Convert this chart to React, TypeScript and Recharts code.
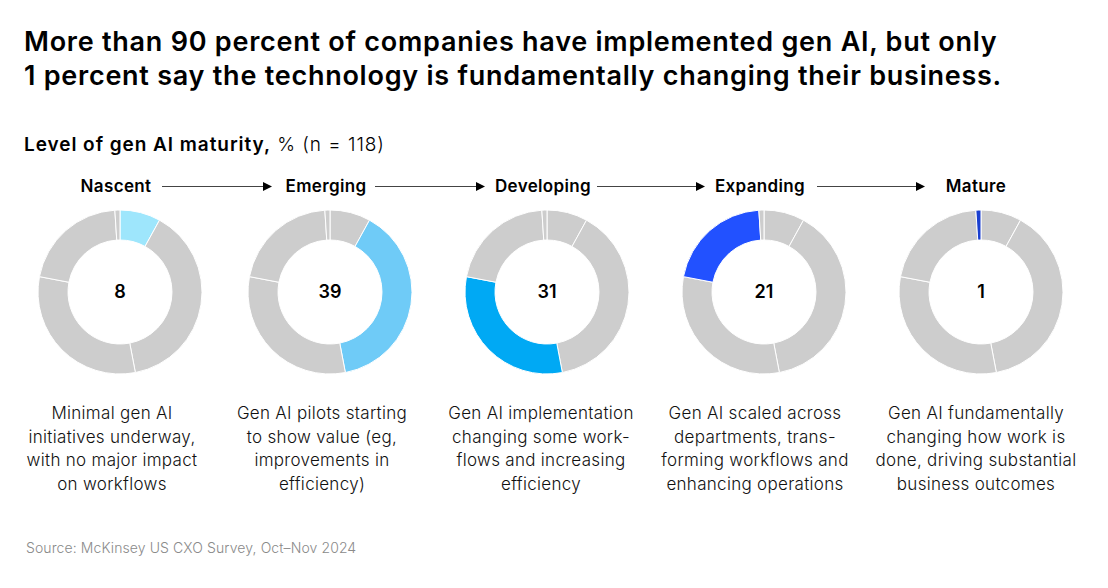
import React from 'react';
import { PieChart, Pie, Cell, Label } from 'recharts';

const STAGES = ['Nascent', 'Emerging', 'Developing', 'Expanding', 'Mature'];
const SHARES = [8, 39, 31, 21, 1];
const HIGHLIGHTS = ['#9ee6fc', '#6fcbf7', '#00a9f4', '#2251ff', '#1a3fd0'];
const DESCRIPTIONS = [
  ['Minimal gen AI', 'initiatives underway,', 'with no major impact', 'on workflows'],
  ['Gen AI pilots starting', 'to show value (eg,', 'improvements in', 'efficiency)'],
  ['Gen AI implementation', 'changing some work-', 'flows and increasing', 'efficiency'],
  ['Gen AI scaled across', 'departments, trans-', 'forming workflows and', 'enhancing operations'],
  ['Gen AI fundamentally', 'changing how work is', 'done, driving substantial', 'business outcomes'],
];

const GRAY = '#cdcdcd';
const FONT = 'Inter, "Noto Sans", Arial, sans-serif';
// layout: donut centres, stage-label centres, description centres
const CENTERS = [120, 330, 547, 764, 981];
const LABEL_X = [116, 326, 543, 760, 976];
const DESC_X = [112, 322, 541, 755, 976];
const CY = 292;
// arrows between stage labels: [from, to]
const ARROWS = [[162, 272], [375, 485], [597, 705], [817, 925]];

const sliceData = SHARES.map((v, i) => ({ name: STAGES[i], value: v }));

const Donut = ({ idx }: { idx: number }) => (
  <PieChart width={180} height={180} margin={{ top: 0, right: 0, bottom: 0, left: 0 }}>
    <Pie
      data={sliceData}
      dataKey="value"
      nameKey="name"
      cx="50%"
      cy="50%"
      innerRadius={52}
      outerRadius={82}
      startAngle={90}
      endAngle={-270}
      stroke="#fff"
      strokeWidth={1}
      isAnimationActive={false}
    >
      {sliceData.map((d, j) => (
        <Cell key={d.name} fill={j === idx ? HIGHLIGHTS[idx] : GRAY} />
      ))}
      <Label value={String(SHARES[idx])} position="center" fill="#000" fontSize={18} fontWeight={600} fontFamily={FONT} />
    </Pie>
  </PieChart>
);

export default function App() {
  return (
    <div style={{ position: 'absolute', left: 0, top: 0, width: 1108, height: 588, background: '#fff', fontFamily: FONT, color: '#000' }}>
      <div style={{ position: 'absolute', left: 24, top: 25, fontSize: 27, fontWeight: 600, lineHeight: '34px', letterSpacing: 0.75, whiteSpace: 'nowrap' }}>
        More than 90 percent of companies have implemented gen AI, but only
        <br />
        1 percent say the technology is fundamentally changing their business.
      </div>
      <div style={{ position: 'absolute', left: 24, top: 133, fontSize: 19, lineHeight: '24px', letterSpacing: 0.95, whiteSpace: 'nowrap' }}>
        <span style={{ fontWeight: 600 }}>Level of gen AI maturity,</span>
        <span style={{ fontWeight: 300 }}> % (n = 118)</span>
      </div>

      {STAGES.map((s, i) => (
        <div key={s} style={{ position: 'absolute', left: LABEL_X[i] - 80, width: 160, top: 175, textAlign: 'center', fontSize: 17, fontWeight: 600, lineHeight: '22px', letterSpacing: 0.35 }}>
          {s}
        </div>
      ))}
      <svg style={{ position: 'absolute', left: 0, top: 0 }} width={1108} height={220}>
        {ARROWS.map(([a, b], i) => (
          <g key={i}>
            <line x1={a} x2={b - 8} y1={186.5} y2={186.5} stroke="#444" strokeWidth={1} />
            <path d={`M${b - 9},182 L${b},186.5 L${b - 9},191 Z`} fill="#000" />
          </g>
        ))}
      </svg>

      {STAGES.map((s, i) => (
        <div key={s} style={{ position: 'absolute', left: CENTERS[i] - 90, top: CY - 90 }}>
          <Donut idx={i} />
        </div>
      ))}

      {DESCRIPTIONS.map((lines, i) => (
        <div key={i} style={{ position: 'absolute', left: DESC_X[i] - 110, width: 220, top: 402, textAlign: 'center', fontSize: 17, fontWeight: 300, lineHeight: '23.5px', letterSpacing: 0.3, color: '#111' }}>
          {lines.map((l) => (
            <div key={l}>{l}</div>
          ))}
        </div>
      ))}

      <div style={{ position: 'absolute', left: 26, top: 539, fontSize: 14, color: '#8a8a8a', fontWeight: 300, letterSpacing: 0.1 }}>
        Source: McKinsey US CXO Survey, Oct–Nov 2024
      </div>
    </div>
  );
}
